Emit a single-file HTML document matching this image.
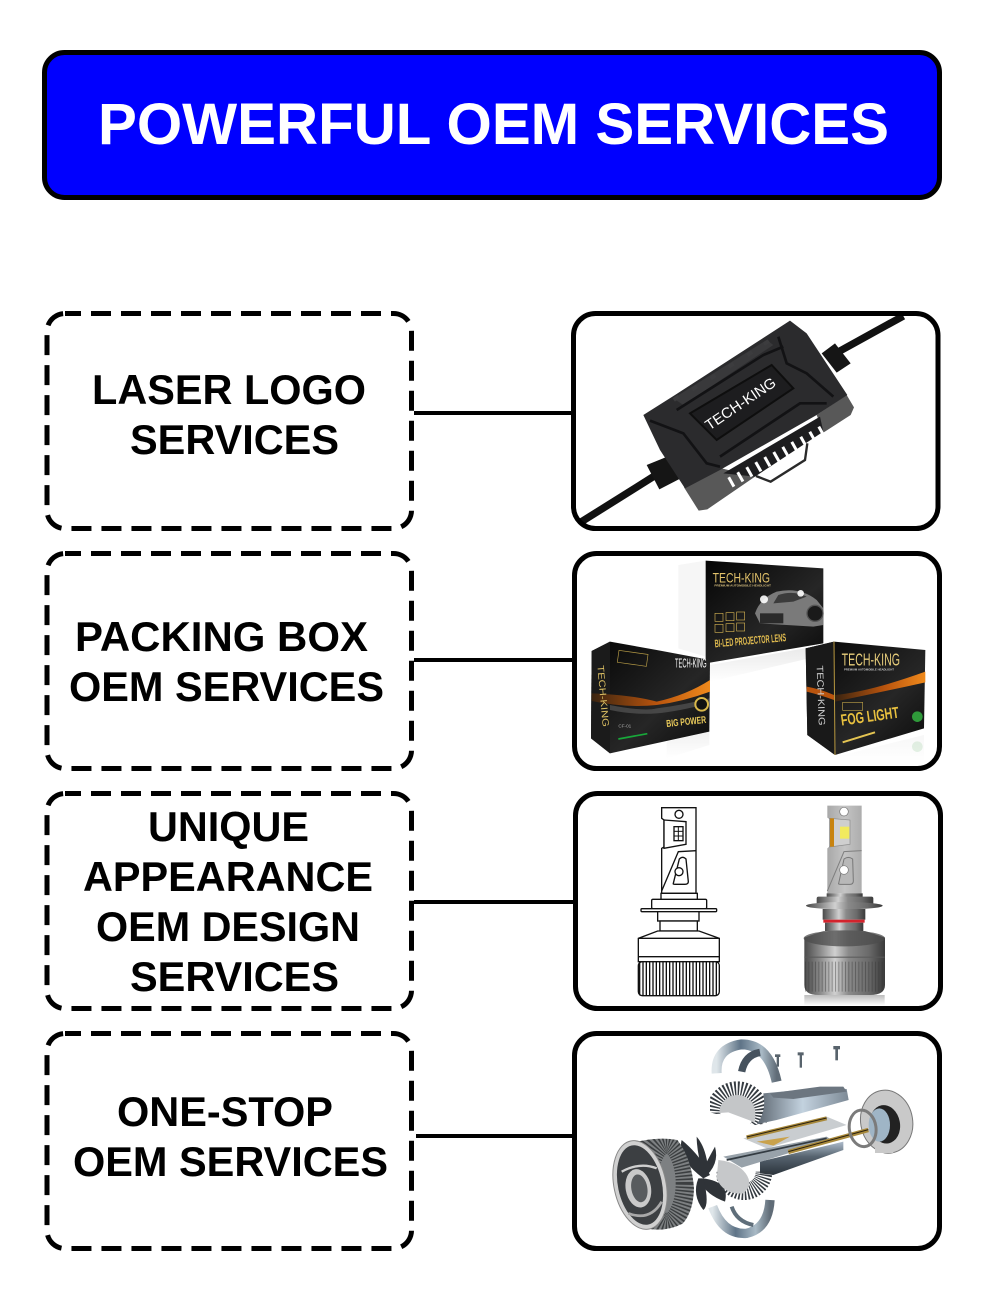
<!DOCTYPE html>
<html><head><meta charset="utf-8"><title>Powerful OEM Services</title>
<style>html,body{margin:0;padding:0;background:#fff}svg{display:block}
text{font-family:"Liberation Sans",Arial,sans-serif;font-weight:bold}</style></head>
<body>
<svg width="1000" height="1314" viewBox="0 0 1000 1314" xmlns="http://www.w3.org/2000/svg">
<defs>
<linearGradient id="metal" x1="0" x2="1" y1="0" y2="0"><stop offset="0" stop-color="#4a4a4a"/><stop offset=".2" stop-color="#8c8c8c"/><stop offset=".38" stop-color="#d0d0d0"/><stop offset=".55" stop-color="#8a8a8a"/><stop offset=".8" stop-color="#6a6a6a"/><stop offset="1" stop-color="#3a3a3a"/></linearGradient>
<linearGradient id="head" x1="0" x2="1" y1="0" y2="0"><stop offset="0" stop-color="#a8a8a8"/><stop offset=".5" stop-color="#c4c4c4"/><stop offset="1" stop-color="#adadad"/></linearGradient>
<linearGradient id="blk" x1="0" x2="1" y1="0" y2="1"><stop offset="0" stop-color="#050505"/><stop offset=".6" stop-color="#262626"/><stop offset="1" stop-color="#0a0a0a"/></linearGradient>
<linearGradient id="org" x1="0" x2="1" y1="0" y2="0"><stop offset="0" stop-color="#3a2410"/><stop offset=".55" stop-color="#b9540e"/><stop offset="1" stop-color="#f08a1c"/></linearGradient>
<linearGradient id="stem" x1="0" x2="1" y1="0" y2="0"><stop offset="0" stop-color="#5c6670"/><stop offset=".5" stop-color="#c3d2df"/><stop offset="1" stop-color="#7d8a96"/></linearGradient>
<linearGradient id="tube" x1="0" x2="0" y1="0" y2="1"><stop offset="0" stop-color="#aebccb"/><stop offset=".45" stop-color="#56636f"/><stop offset="1" stop-color="#2b333b"/></linearGradient>
<linearGradient id="refl" x1="0" x2="0" y1="0" y2="1"><stop offset="0" stop-color="#bdbdbd"/><stop offset="1" stop-color="#fff"/></linearGradient>
<linearGradient id="brk" x1="0" x2="1" y1="0" y2="0"><stop offset="0" stop-color="#dfe6ea"/><stop offset=".4" stop-color="#5f7487"/><stop offset=".75" stop-color="#a9bac6"/><stop offset="1" stop-color="#606c77"/></linearGradient>
<clipPath id="c1"><rect x="573.5" y="313.5" width="364.5" height="215" rx="22"/></clipPath>
<clipPath id="c2"><rect x="574.5" y="553.5" width="365" height="215" rx="22"/></clipPath>
<clipPath id="c4"><rect x="574.5" y="1033.5" width="365" height="215" rx="22"/></clipPath>
<clipPath id="halfB"><path d="M470,440 H650 V530 H470 Z"/></clipPath>
<clipPath id="halfT"><path d="M450,168 H625 V295 L585,300 L500,275 L450,262 Z"/></clipPath>
<clipPath id="cyl"><path d="M232,350 Q300,335 352,345 Q395,400 402,490 Q400,560 368,596 Q320,620 270,612 Z"/></clipPath>
</defs>

<!-- header -->
<rect x="44.5" y="52.5" width="895" height="145" rx="20" fill="#0000ff" stroke="#000" stroke-width="5"/>
<text x="98" y="144" font-size="58" fill="#fff" textLength="791" lengthAdjust="spacingAndGlyphs">POWERFUL OEM SERVICES</text>

<!-- connectors -->
<g stroke="#000" stroke-width="4">
<line x1="414" y1="413" x2="573" y2="413"/>
<line x1="414" y1="660" x2="574" y2="660"/>
<line x1="414" y1="902" x2="575" y2="902"/>
<line x1="416" y1="1136" x2="574" y2="1136"/>
</g>

<!-- dashed boxes -->
<g fill="none" stroke="#000" stroke-width="5" stroke-dasharray="20 10">
<rect x="47" y="313.5" width="364.5" height="215" rx="18" stroke-dashoffset="-26"/>
<rect x="47" y="553.5" width="364.5" height="215" rx="18" stroke-dashoffset="-26"/>
<rect x="47" y="793.5" width="364.5" height="215" rx="18" stroke-dashoffset="-26"/>
<rect x="47" y="1033.5" width="364.5" height="215" rx="18" stroke-dashoffset="-26"/>
</g>

<!-- labels -->
<g font-size="41.5" fill="#000">
<text x="92" y="404" textLength="274" lengthAdjust="spacingAndGlyphs">LASER LOGO</text>
<text x="130" y="454" textLength="209" lengthAdjust="spacingAndGlyphs">SERVICES</text>
<text x="75" y="651" textLength="293" lengthAdjust="spacingAndGlyphs">PACKING BOX</text>
<text x="69" y="701" textLength="315" lengthAdjust="spacingAndGlyphs">OEM SERVICES</text>
<text x="148" y="841" textLength="161" lengthAdjust="spacingAndGlyphs">UNIQUE</text>
<text x="83" y="891" textLength="290" lengthAdjust="spacingAndGlyphs">APPEARANCE</text>
<text x="96" y="941" textLength="264" lengthAdjust="spacingAndGlyphs">OEM DESIGN</text>
<text x="130" y="991" textLength="209" lengthAdjust="spacingAndGlyphs">SERVICES</text>
<text x="117" y="1126" textLength="216" lengthAdjust="spacingAndGlyphs">ONE-STOP</text>
<text x="73" y="1176" textLength="315" lengthAdjust="spacingAndGlyphs">OEM SERVICES</text>
</g>

<!-- IMAGE 1 : control box -->
<g clip-path="url(#c1)">
<g transform="translate(560 300) scale(.33333)">
<line x1="60" y1="668" x2="280" y2="530" stroke="#111" stroke-width="22"/>
<line x1="800" y1="175" x2="1030" y2="48" stroke="#111" stroke-width="22"/>
<polygon points="260,495 322,470 362,535 298,568" fill="#151515"/>
<polygon points="785,160 825,130 872,190 830,218" fill="#151515"/>
<!-- side pieces -->
<polygon points="770,345 860,285 882,322 872,345 790,398" fill="#585858"/>
<polygon points="372,562 485,505 585,530 442,628 416,632" fill="#585858"/>
<!-- fins -->
<polygon points="490,520 780,350 790,395 585,530" fill="#1d1d1f"/>
<line x1="510" y1="548" x2="800" y2="385" stroke="#fff" stroke-width="32" stroke-dasharray="9 22"/>
<!-- top face -->
<polygon points="250,345 345,285 690,62 740,100 862,285 770,345 480,510 375,565 300,450" fill="#2b2b2d"/>
<polygon points="340,295 620,120 640,135 370,315" fill="#39393b"/>
<polygon points="390,340 635,195 700,265 470,420" fill="#1d1d1f" stroke="#0e0e0e" stroke-width="6"/>
<g fill="none" stroke="#121214" stroke-width="8">
<polyline points="270,362 370,400 440,490 480,500"/>
<polyline points="655,110 680,190 740,220 820,290"/>
<polyline points="350,330 610,165 670,140"/>
<polyline points="480,470 720,310 800,310"/>
</g>
<g fill="#3c3c3e">
<rect x="340" y="288" width="18" height="12" transform="rotate(-34 350 295)"/>
<rect x="395" y="258" width="18" height="12" transform="rotate(-34 404 264)"/>
<rect x="450" y="225" width="18" height="12" transform="rotate(-34 459 231)"/>
<rect x="505" y="190" width="18" height="12" transform="rotate(-34 514 196)"/>
<rect x="560" y="155" width="18" height="12" transform="rotate(-34 569 161)"/>
<rect x="610" y="122" width="18" height="12" transform="rotate(-34 619 128)"/>
</g>
<polygon points="612,522 725,452 735,480 630,540" fill="#fff"/>
<polyline points="588,528 632,545 735,480 742,430" fill="none" stroke="#2a2a2a" stroke-width="7"/>
<text transform="translate(448 392) rotate(-34)" font-size="44" fill="#fff" textLength="245" lengthAdjust="spacingAndGlyphs" style="font-weight:normal">TECH-KING</text>
</g>
</g>
<rect x="573.5" y="313.5" width="364.5" height="215" rx="22" fill="none" stroke="#000" stroke-width="5"/>

<!-- IMAGE 2 : boxes -->
<g clip-path="url(#c2)">
<g transform="translate(560 545) scale(.33333)">
<!-- back box -->
<polygon points="355,60 437,47 437,335 355,310" fill="#f6f6f6"/>
<polygon points="437,47 790,70 790,295 437,355" fill="url(#blk)"/>
<polygon points="450,360 790,300 790,330 450,410" fill="url(#refl)" opacity=".35"/>
<text x="458" y="112" font-size="41" fill="#e2c26a" textLength="172" lengthAdjust="spacingAndGlyphs" style="font-weight:normal">TECH-KING</text>
<text x="463" y="124" font-size="9" fill="#d8c080" textLength="170" lengthAdjust="spacingAndGlyphs">PREMIUM AUTOMOBILE HEADLIGHT</text>
<path d="M585,205 Q600,160 650,140 Q720,125 770,165 L790,190 V240 L760,245 L600,235 Z" fill="#7a7a7a"/>
<path d="M655,150 Q700,135 740,155 L700,170 L640,175 Z" fill="#3b3b3b"/>
<rect x="600" y="205" width="70" height="30" fill="#2a2a2a"/>
<circle cx="765" cy="205" r="24" fill="#1a1a1a" stroke="#555" stroke-width="4"/>
<circle cx="612" cy="163" r="12" fill="#fff" opacity=".9"/>
<circle cx="722" cy="145" r="10" fill="#fff" opacity=".9"/>
<g fill="none" stroke="#c9a94f" stroke-width="2">
<rect x="465" y="205" width="24" height="24"/><rect x="498" y="203" width="24" height="24"/><rect x="530" y="201" width="24" height="24"/>
<rect x="465" y="238" width="24" height="24"/><rect x="498" y="236" width="24" height="24"/><rect x="530" y="234" width="24" height="24"/>
</g>
<text transform="translate(465 307) rotate(-5)" font-size="33" fill="#e0bb4f" textLength="215" lengthAdjust="spacingAndGlyphs">BI-LED PROJECTOR LENS</text>
<!-- left box -->
<polygon points="95,318 150,290 290,315 450,345 448,560 150,625 93,580" fill="url(#blk)"/>
<polygon points="95,318 150,290 150,625 93,580" fill="#1b1b1b"/>
<path d="M95,445 Q220,450 290,470 Q380,450 450,405 V440 Q370,470 290,480 Q200,490 95,468 Z" fill="url(#org)"/>
<path d="M150,480 Q250,500 290,490 Q370,480 448,460 V475 Q350,500 290,505 Q220,510 150,495 Z" fill="#555" opacity=".7"/>
<rect x="174" y="322" width="88" height="36" fill="none" stroke="#b59a45" stroke-width="2" transform="rotate(8 218 340)"/>
<text x="345" y="368" font-size="38" fill="#fff" textLength="95" lengthAdjust="spacingAndGlyphs" style="font-weight:normal">TECH-KING</text>
<text transform="translate(112 362) rotate(85)" font-size="28" fill="#d9bd62" textLength="185" lengthAdjust="spacingAndGlyphs" style="font-weight:normal">TECH-KING</text>
<circle cx="425" cy="478" r="19" fill="#111" stroke="#d9b84a" stroke-width="6"/>
<text transform="translate(320 546) rotate(-6)" font-size="30" fill="#e8c95a" textLength="120" lengthAdjust="spacingAndGlyphs">BIG POWER</text>
<line x1="175" y1="582" x2="262" y2="566" stroke="#18a83a" stroke-width="5"/>
<text x="175" y="548" font-size="14" fill="#aaa" style="font-weight:normal">CF-01</text>
<polygon points="320,640 448,600 448,560 320,590" fill="url(#refl)" opacity=".22"/>
<!-- right box -->
<polygon points="737,310 822,290 1096,315 1092,550 825,630 742,570" fill="url(#blk)"/>
<polygon points="737,310 822,290 825,630 742,570" fill="#191919"/>
<line x1="822" y1="290" x2="825" y2="630" stroke="#b8983f" stroke-width="3"/>
<path d="M825,450 Q930,440 1096,380 V412 Q970,440 825,470 Z" fill="url(#org)"/>
<path d="M740,425 Q780,432 822,450 V465 Q780,450 740,440 Z" fill="#b9540e"/>
<text x="845" y="362" font-size="52" fill="#e6cc7a" textLength="175" lengthAdjust="spacingAndGlyphs" style="font-weight:normal">TECH-KING</text>
<text x="852" y="376" font-size="9" fill="#ccc" textLength="150" lengthAdjust="spacingAndGlyphs">PREMIUM AUTOMOBILE HEADLIGHT</text>
<text transform="translate(770 362) rotate(88)" font-size="28" fill="#d0d0d0" textLength="180" lengthAdjust="spacingAndGlyphs" style="font-weight:normal">TECH-KING</text>
<rect x="848" y="472" width="60" height="24" fill="none" stroke="#b59a45" stroke-width="2"/>
<text transform="translate(845 542) rotate(-8)" font-size="48" fill="#e9c13f" textLength="175" lengthAdjust="spacingAndGlyphs">FOG LIGHT</text>
<line x1="848" y1="592" x2="945" y2="562" stroke="#e4c452" stroke-width="6"/>
<circle cx="1072" cy="515" r="16" fill="#2f9a3a"/>
<circle cx="1072" cy="605" r="16" fill="#cfe7d0" opacity=".6"/>
<polygon points="830,650 1092,650 1092,570 830,635" fill="url(#refl)" opacity=".12"/>
</g>
</g>
<rect x="574.5" y="553.5" width="365" height="215" rx="22" fill="none" stroke="#000" stroke-width="5"/>

<!-- IMAGE 3 : bulbs -->
<g transform="translate(560 785) scale(.33333)">
<!-- outline bulb -->
<g fill="#fff" stroke="#111" stroke-width="4">
<path d="M305,68 H408 V325 H305 V190 L312,186 V105 L305,100 Z"/>
<circle cx="357" cy="88" r="12"/>
<path d="M312,105 L378,110 V178 L312,190 Z"/>
<rect x="342" y="125" width="27" height="42"/>
<path d="M305,318 L355,200 L408,197" fill="none"/>
<path d="M340,295 L358,222 Q368,212 378,222 L385,290 Q385,298 375,298 H345 Q338,298 340,295 Z"/>
<circle cx="357" cy="260" r="12"/>
<rect x="303" y="325" width="109" height="20"/>
<rect x="275" y="343" width="165" height="28" rx="4"/>
<rect x="243" y="371" width="227" height="9" rx="3"/>
<rect x="293" y="380" width="124" height="28"/>
<rect x="300" y="408" width="112" height="30"/>
<path d="M293,438 H417 L478,460 V530 H235 V460 Z"/>
<line x1="235" y1="460" x2="478" y2="460"/>
<line x1="235" y1="515" x2="478" y2="515"/>
</g>
<g stroke="#111" stroke-width="3"><line x1="342" y1="139" x2="369" y2="139"/><line x1="342" y1="153" x2="369" y2="153"/><line x1="355" y1="125" x2="355" y2="167"/></g>
<rect x="235" y="530" width="243" height="102" rx="12" fill="#fff" stroke="#111" stroke-width="4"/>
<line x1="237" y1="581" x2="476" y2="581" stroke="#111" stroke-width="100" stroke-dasharray="4 6"/>
<!-- real bulb -->
<rect x="733" y="630" width="241" height="32" fill="url(#refl)"/>
<path d="M802,62 H905 V325 H802 V190 L808,185 V102 L802,98 Z" fill="url(#head)"/>
<circle cx="852" cy="80" r="13" fill="#fff" stroke="#777" stroke-width="2"/>
<path d="M808,100 L870,105 V178 L808,186 Z" fill="#cfcfcf" stroke="#8a8a8a" stroke-width="2"/>
<rect x="810" y="100" width="12" height="85" fill="#c8830f"/>
<rect x="840" y="125" width="28" height="36" fill="#f2ea5e"/>
<path d="M802,318 L852,200 L905,197" fill="none" stroke="#7f7f7f" stroke-width="3"/>
<path d="M836,295 L852,222 Q865,212 878,222 L880,288 Q880,298 870,298 H842 Q834,298 836,295 Z" fill="#b8b8b8" stroke="#777" stroke-width="3"/>
<circle cx="852" cy="255" r="13" fill="#fff" stroke="#777" stroke-width="2"/>
<rect x="800" y="325" width="108" height="20" fill="url(#metal)"/>
<rect x="770" y="335" width="170" height="32" rx="6" fill="url(#metal)"/>
<ellipse cx="853" cy="362" rx="115" ry="11" fill="url(#metal)"/>
<rect x="788" y="372" width="128" height="32" fill="url(#metal)"/>
<rect x="790" y="404" width="124" height="9" fill="#d3232c"/>
<rect x="795" y="413" width="115" height="25" fill="url(#metal)"/>
<path d="M790,438 H915 L975,458 V600 Q975,630 930,630 H775 Q733,630 733,600 V458 Z" fill="url(#metal)"/>
<ellipse cx="853" cy="460" rx="122" ry="24" fill="#4c4c4c" opacity=".75"/>
<rect x="733" y="515" width="241" height="3" fill="#5a5a5a"/>
<line x1="735" y1="575" x2="973" y2="575" stroke="#333" stroke-width="90" stroke-dasharray="3 7" opacity=".4"/>
</g>
<rect x="575.5" y="793.5" width="365" height="215" rx="22" fill="none" stroke="#000" stroke-width="5"/>

<!-- IMAGE 4 : exploded view -->
<g clip-path="url(#c4)">
<g transform="translate(560 1025) scale(.33333)">
<!-- top bracket -->
<path d="M470,145 Q465,70 545,58 Q625,58 650,170" fill="none" stroke="url(#brk)" stroke-width="30"/>
<path d="M545,140 Q555,90 600,82" fill="none" stroke="#46525e" stroke-width="22"/>
<!-- screws -->
<g fill="#58636c">
<rect x="645" y="88" width="16" height="8"/><rect x="650" y="95" width="7" height="30"/>
<rect x="713" y="82" width="18" height="9"/><rect x="719" y="90" width="7" height="38"/>
<rect x="820" y="63" width="20" height="10"/><rect x="826" y="72" width="8" height="34"/>
</g>
<!-- upper heat sink -->
<circle cx="532" cy="262" r="72" fill="none" stroke="#353b41" stroke-width="42" stroke-dasharray="5 5" clip-path="url(#halfT)"/>
<path d="M478,264 A54,54 0 0 1 586,264 L585,292 L505,262 Z" fill="#c4c6c8"/>
<path d="M610,205 L790,188 L860,192 L866,225 L650,285 L590,298 Q620,260 610,205 Z" fill="url(#stem)"/>
<polygon points="630,205 780,185 850,185 860,200 700,222 640,218" fill="#6c7680"/>
<!-- right ring -->
<ellipse cx="980" cy="290" rx="78" ry="95" fill="#c9c9c9" stroke="#777" stroke-width="3" transform="rotate(-10 980 290)"/>
<ellipse cx="975" cy="298" rx="45" ry="58" fill="#222" transform="rotate(-10 975 298)"/>
<ellipse cx="958" cy="300" rx="32" ry="50" fill="#9fb5c6"/>
<rect x="945" y="360" width="55" height="24" fill="#c9c9c9"/>
<!-- pcb and rods -->
<polygon points="550,340 800,275 860,300 620,370" fill="#c9cdd0"/>
<polygon points="590,350 690,335 640,362" fill="#c9a24c"/>
<line x1="560" y1="337" x2="800" y2="280" stroke="#a98a3c" stroke-width="12"/>
<line x1="560" y1="336" x2="800" y2="279" stroke="#2a2110" stroke-width="3"/>
<!-- stem lower -->
<polygon points="600,410 850,350 850,375 640,450 600,445" fill="url(#tube)"/>
<polygon points="490,395 800,335 815,345 545,428" fill="#98a2aa"/>
<line x1="500" y1="405" x2="800" y2="340" stroke="#333b42" stroke-width="5"/>
<line x1="685" y1="381" x2="925" y2="315" stroke="#a98a3c" stroke-width="13"/>
<line x1="685" y1="380" x2="925" y2="314" stroke="#2a2110" stroke-width="3"/>
<ellipse cx="908" cy="310" rx="40" ry="55" fill="none" stroke="#7b7b7b" stroke-width="9" transform="rotate(-8 908 310)"/>
<!-- bottom bracket -->
<path d="M458,545 Q490,630 560,625 Q625,610 630,525" fill="none" stroke="url(#brk)" stroke-width="28"/>
<path d="M515,545 Q530,590 580,600" fill="none" stroke="#5f6e7a" stroke-width="12"/>
<!-- fan -->
<g fill="#2f3338">
<path d="M430,460 Q350,400 365,345 Q420,390 450,450 Z"/>
<path d="M430,450 Q410,380 410,335 Q440,370 445,440 Z"/>
<path d="M430,460 Q480,420 465,365 Q440,410 420,450 Z"/>
<path d="M430,460 Q510,470 495,530 Q440,510 420,470 Z"/>
<path d="M430,460 Q450,540 430,555 Q395,510 415,460 Z"/>
</g>
<!-- lower heat sink -->
<circle cx="552" cy="440" r="60" fill="none" stroke="#353b41" stroke-width="50" stroke-dasharray="4 4" clip-path="url(#halfB)"/>
<path d="M475,405 Q530,410 557,445 Q582,480 550,505 Q490,510 470,460 Z" fill="#c6c8ca"/>
<!-- big heat sink -->
<path d="M232,350 Q300,335 352,345 Q395,400 402,490 Q400,560 368,596 Q320,620 270,612 Z" fill="#7d8082"/>
<g clip-path="url(#cyl)"><ellipse cx="320" cy="475" rx="72" ry="135" fill="none" stroke="#26282a" stroke-width="90" stroke-dasharray="5 6" opacity=".75"/></g>
<ellipse cx="240" cy="480" rx="78" ry="135" fill="#d0d0d0" stroke="#888" stroke-width="3" transform="rotate(-12 240 480)"/>
<ellipse cx="240" cy="480" rx="66" ry="121" fill="#3c3f42" transform="rotate(-12 240 480)"/>
<ellipse cx="235" cy="490" rx="38" ry="58" fill="#c9c9c9" transform="rotate(-10 235 490)"/>
<ellipse cx="238" cy="490" rx="24" ry="42" fill="#585b5e" transform="rotate(-10 238 490)"/>
<path d="M185,440 Q240,410 290,430" fill="none" stroke="#cfcfcf" stroke-width="7"/>
<path d="M205,565 Q270,590 305,530" fill="none" stroke="#a8a8a8" stroke-width="8"/>
</g>
</g>
<rect x="574.5" y="1033.5" width="365" height="215" rx="22" fill="none" stroke="#000" stroke-width="5"/>
</svg>
</body></html>
